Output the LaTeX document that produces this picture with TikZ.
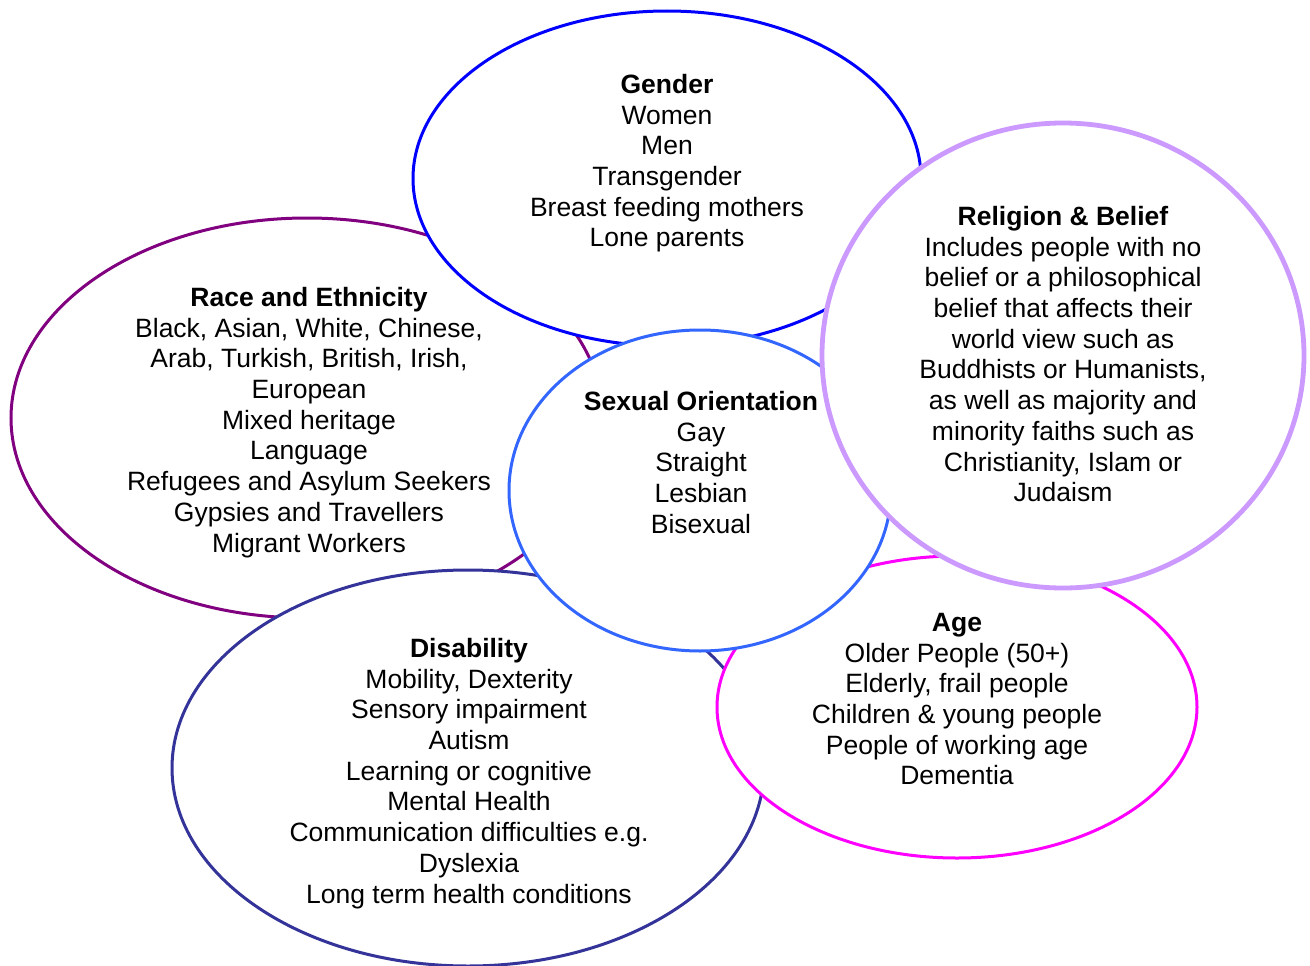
\documentclass[tikz,border=0pt]{standalone}
\usepackage{fontspec}
\setmainfont{Liberation Sans}
\definecolor{genderblue}{HTML}{0000FF}
\definecolor{racepurple}{HTML}{800080}
\definecolor{sexblue}{HTML}{3366FF}
\definecolor{faithlilac}{HTML}{CC99FF}
\definecolor{agepink}{HTML}{FF00FF}
\definecolor{disnavy}{HTML}{333399}

\begin{document}
\begin{tikzpicture}[
    x = 1pt, y = -1pt,
    ring/.style = {line width=3pt, fill=white},
    txt/.style = {anchor=north, align=center, inner sep=0pt,
        font=\fontsize{26.5}{30.7}\selectfont}
  ]
  \useasboundingbox (0,0) rectangle (1310,966);

  \draw[ring, draw=racepurple] (307,418) ellipse [x radius=296pt, y radius=200pt];
  \node[txt] (race) at (309,287) {\textbf{Race and Ethnicity}\\Black, Asian, White, Chinese,\\Arab, Turkish, British, Irish,\\European\\Mixed heritage\\Language\\Refugees and Asylum Seekers\\Gypsies and Travellers\\Migrant Workers};

  \draw[ring, draw=genderblue] (667,178.5) ellipse [x radius=254pt, y radius=167.5pt];
  \node[txt] (gender) at (667,74) {\textbf{Gender}\\Women\\Men\\Transgender\\Breast feeding mothers\\Lone parents};

  \draw[ring, draw=disnavy] (468,768) ellipse [x radius=296pt, y radius=198pt];
  \node[txt] (disability) at (469,638) {\textbf{Disability}\\Mobility, Dexterity\\Sensory impairment\\Autism\\Learning or cognitive\\Mental Health\\Communication difficulties e.g.\\Dyslexia\\Long term health conditions};

  \draw[ring, draw=agepink] (957,707) ellipse [x radius=240pt, y radius=151pt];
  \node[txt] (age) at (957,613) {\textbf{Age}\\Older People (50+)\\Elderly, frail people\\Children \& young people\\People of working age\\Dementia};

  \draw[ring, draw=sexblue] (700,490.5) ellipse [x radius=191pt, y radius=160.5pt];
  \node[txt] (sexual) at (701,391) {\textbf{Sexual Orientation}\\Gay\\Straight\\Lesbian\\Bisexual};

  \draw[ring, draw=faithlilac, line width=4.8pt] (1063,355.5) ellipse [x radius=241pt, y radius=232.5pt];
  \node[txt] (religion) at (1063,206) {\textbf{Religion \& Belief}\\Includes people with no\\belief or a philosophical\\belief that affects their\\world view such as\\Buddhists or Humanists,\\as well as majority and\\minority faiths such as\\Christianity, Islam or\\Judaism};
\end{tikzpicture}
\end{document}
